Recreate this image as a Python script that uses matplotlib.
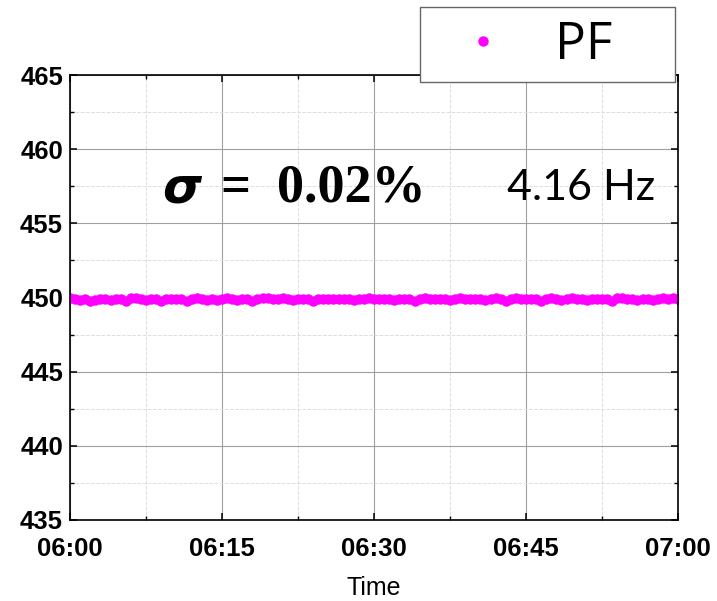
import matplotlib
matplotlib.use("Agg")
import matplotlib.pyplot as plt
import matplotlib.dates as mdates
from matplotlib.font_manager import FontProperties
from matplotlib.patches import Rectangle
from matplotlib.ticker import MultipleLocator
import pandas as pd

# PF readings, one every 30 s from 06:00 to 07:00
start = "2023-01-01 06:00:00"
end = "2023-01-01 07:00:00"
pf_values = [
    449.95, 449.90, 449.85, 449.88, 449.80, 449.86, 449.92, 449.88, 449.84, 449.90,
    449.87, 449.75, 449.95, 449.98, 449.90, 449.86, 449.92, 449.88, 449.80, 449.89,
    449.93, 449.90, 449.87, 449.76, 449.91, 449.95, 449.90, 449.86, 449.92, 449.85,
    449.88, 449.96, 449.90, 449.85, 449.91, 449.88, 449.78, 449.92, 449.97, 449.99,
    449.93, 449.89, 449.95, 449.90, 449.86, 449.91, 449.88, 449.92, 449.80, 449.90,
    449.88, 449.93, 449.90, 449.87, 449.92, 449.89, 449.85, 449.91, 449.88, 449.94,
    449.90, 449.87, 449.92, 449.88, 449.85, 449.90, 449.93, 449.88, 449.80, 449.91,
    449.94, 449.90, 449.87, 449.92, 449.88, 449.84, 449.91, 449.95, 449.90, 449.88,
    449.93, 449.89, 449.86, 449.92, 449.97, 449.90, 449.78, 449.93, 449.96, 449.90,
    449.87, 449.93, 449.89, 449.76, 449.92, 449.95, 449.90, 449.86, 449.91, 449.94,
    449.88, 449.92, 449.85, 449.89, 449.93, 449.90, 449.87, 449.80, 449.95, 449.98,
    449.92, 449.88, 449.85, 449.90, 449.93, 449.81, 449.89, 449.95, 449.91, 449.97,
    449.92,
]
times = pd.date_range(start, periods=len(pf_values), freq="30s")

sigma_value = "0.02%"
rate_text = "4.16 Hz"

fig = plt.figure(figsize=(7.17, 6.01), dpi=100)
ax = fig.add_axes([0.0976, 0.1348, 0.848, 0.7402])

ax.plot(times, pf_values, "o", color="#ff00ff", markersize=7.5, markeredgewidth=0, label="PF")

ax.set_ylim(435, 465)
ax.set_xlim(pd.Timestamp(start), pd.Timestamp(end))
ax.yaxis.set_major_locator(MultipleLocator(5))
ax.yaxis.set_minor_locator(MultipleLocator(2.5))
ax.xaxis.set_major_locator(mdates.MinuteLocator(byminute=[0, 15, 30, 45]))
ax.xaxis.set_minor_locator(MultipleLocator(7.5 / 1440))
ax.xaxis.set_major_formatter(mdates.DateFormatter("%H:%M"))

ax.grid(which="major", color="#a0a0a0", linewidth=0.8)
ax.grid(which="minor", color="#dddddd", linestyle="--", linewidth=0.7)
ax.tick_params(which="both", direction="in", top=True, right=True)
ax.tick_params(which="major", length=5, width=1.1)
ax.tick_params(which="minor", length=3, width=1)
ax.tick_params(axis="x", pad=12)
ax.tick_params(axis="y", pad=5)
for s in ax.spines.values():
    s.set_linewidth(1.2)

tick_font = FontProperties(family="Liberation Sans", weight="bold", size=18.5)
for lab in ax.get_xticklabels() + ax.get_yticklabels():
    lab.set_fontproperties(tick_font)
ax.set_xlabel("Time", family="Liberation Sans", size=18, labelpad=11)

ax.text(0.152, 0.746, "σ", transform=ax.transAxes, fontsize=36,
        family="DejaVu Sans", weight="bold", style="italic", va="center")
ax.text(0.248, 0.746, "=", transform=ax.transAxes, fontsize=38,
        family="Liberation Serif", weight="bold", va="center")
ax.text(0.341, 0.746, sigma_value, transform=ax.transAxes, fontsize=39,
        family="Liberation Serif", weight="bold", va="center")
ax.text(0.962, 0.746, rate_text, transform=ax.transAxes, fontsize=31,
        family="Lato", ha="right", va="center")

# legend frame sits over the top-right corner of the axes
frame = Rectangle((0.5858, 0.8636), 0.3556, 0.1248, transform=fig.transFigure,
                  facecolor="white", edgecolor="#666666", linewidth=1, zorder=5)
fig.add_artist(frame)
leg = fig.legend(loc="center left", bbox_to_anchor=(0.616, 0.9235), frameon=False,
                 prop=dict(family="Open Sans", size=37), handlelength=1.6,
                 handletextpad=0.6, borderpad=0, borderaxespad=0)
leg.set_zorder(6)

fig.savefig("out.png", dpi=100)
